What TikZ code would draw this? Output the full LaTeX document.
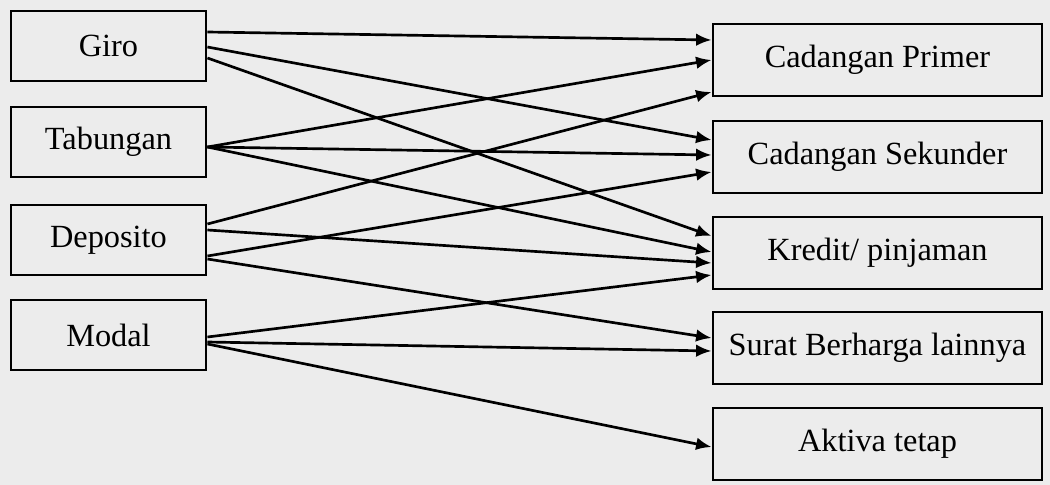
\documentclass[tikz,border=0pt]{standalone}
\usepackage{fontspec}
\setmainfont{Liberation Serif}
\usetikzlibrary{arrows.meta,positioning,calc}
\definecolor{paper}{RGB}{236,236,236}

\begin{document}
\begin{tikzpicture}[x=0.025cm,y=-0.025cm,>={Latex[length=11pt,width=9pt]},
  box/.style={draw,line width=2pt,fill=paper,font=\fontsize{23}{27}\selectfont},
  src/.style={box,minimum width=4.875cm,minimum height=1.75cm},
  dst/.style={box,minimum width=8.225cm,minimum height=1.8cm},
  flow/.style={->,line width=1.9pt}]
\fill[paper] (0,0) rectangle (1050,485);
\useasboundingbox (0,0) rectangle (1050,485);
% sources of funds
\node[src] (giro) at (108.5,46) {Giro};
\node[src] (tabungan) at (108.5,142) {Tabungan};
\node[src] (deposito) at (108.5,240) {Deposito};
\node[src] (modal) at (108.5,335) {Modal};
% uses of funds
\node[dst] (primer) at (877.5,60) {Cadangan Primer};
\node[dst] (sekunder) at (877.5,157) {Cadangan Sekunder};
\node[dst] (kredit) at (877.5,253) {Kredit/ pinjaman};
\node[dst] (surat) at (877.5,348) {Surat Berharga lainnya};
\node[dst] (aktiva) at (877.5,444) {Aktiva tetap};
% allocation
\draw[flow] ($(giro.east)+(0,-14)$) -- ($(primer.west)+(0,-20)$);
\draw[flow] ($(giro.east)+(0,1)$) -- ($(sekunder.west)+(0,-17)$);
\draw[flow] ($(giro.east)+(0,12)$) -- ($(kredit.west)+(0,-17)$);
\draw[flow] ($(tabungan.east)+(0,5)$) -- ($(primer.west)+(0,0)$);
\draw[flow] ($(tabungan.east)+(0,5)$) -- ($(sekunder.west)+(0,-2)$);
\draw[flow] ($(tabungan.east)+(0,5)$) -- ($(kredit.west)+(0,-1)$);
\draw[flow] ($(deposito.east)+(0,-16)$) -- ($(primer.west)+(0,32)$);
\draw[flow] ($(deposito.east)+(0,-10)$) -- ($(kredit.west)+(0,10)$);
\draw[flow] ($(deposito.east)+(0,16)$) -- ($(sekunder.west)+(0,15)$);
\draw[flow] ($(deposito.east)+(0,19)$) -- ($(surat.west)+(0,-10)$);
\draw[flow] ($(modal.east)+(0,2)$) -- ($(kredit.west)+(0,22)$);
\draw[flow] ($(modal.east)+(0,7)$) -- ($(surat.west)+(0,3)$);
\draw[flow] ($(modal.east)+(0,9)$) -- ($(aktiva.west)+(0,3)$);
\end{tikzpicture}
\end{document}
